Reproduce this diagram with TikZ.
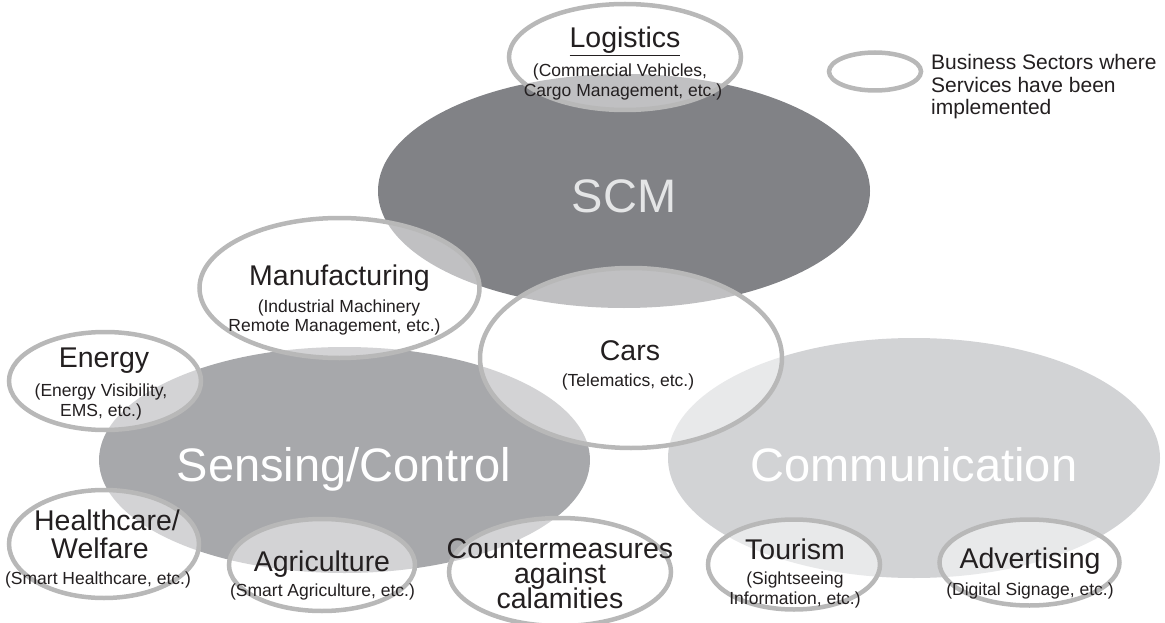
\documentclass[tikz,border=0pt]{standalone}
\usepackage{fontspec}
\setmainfont{Liberation Sans}
\usetikzlibrary{shapes.geometric}
\definecolor{scmgray}{RGB}{129,130,134}
\definecolor{sensegray}{RGB}{167,168,171}
\definecolor{commgray}{RGB}{210,211,213}
\definecolor{ringgray}{RGB}{184,184,184}
\definecolor{ink}{RGB}{35,31,32}
\definecolor{palelabel}{RGB}{228,229,230}

\begin{document}
\begin{tikzpicture}[x=1pt,y=-1pt,
  field/.style={ellipse,inner sep=0pt,outer sep=0pt,draw=none},
  sector/.style={ellipse,inner sep=0pt,outer sep=0pt,draw=ringgray,line width=4.5pt,
                 fill=white,fill opacity=0.5},
  fieldlabel/.style={anchor=base,inner sep=0pt,font=\fontsize{47}{50}\selectfont},
  head/.style={anchor=base,inner sep=0pt,text=ink,font=\fontsize{28.5}{30}\selectfont},
  sub/.style={anchor=base,inner sep=0pt,text=ink,font=\fontsize{17.5}{19}\selectfont},
  note/.style={anchor=base west,inner sep=0pt,text=ink,font=\fontsize{21}{22}\selectfont}]
\useasboundingbox (0,0) rectangle (1165,623);
\clip (0,0) rectangle (1165,623);

% the three service fields
\node[field,fill=scmgray,minimum width=492pt,minimum height=234pt]   (scm)  at (624,191)   {};
\node[field,fill=sensegray,minimum width=491pt,minimum height=226pt] (sens) at (344.5,460) {};
\node[field,fill=commgray,minimum width=492pt,minimum height=240pt]  (comm) at (914,458)   {};

% business sectors
\node[sector,minimum width=232pt,minimum height=106pt] (logi)  at (625,57)    {};
\node[sector,minimum width=92pt,minimum height=38pt]   (key)   at (875,71.5)  {};
\node[sector,minimum width=280pt,minimum height=140pt] (manu)  at (339.5,288) {};
\node[sector,minimum width=302pt,minimum height=180pt] (cars)  at (631,358)   {};
\node[sector,minimum width=192pt,minimum height=98pt]  (enrg)  at (105,381)   {};
\node[sector,minimum width=190pt,minimum height=108pt] (hlth)  at (104,544)   {};
\node[sector,minimum width=186pt,minimum height=92pt]  (agri)  at (322,565)   {};
\node[sector,minimum width=222pt,minimum height=108pt] (cntr)  at (560,572)   {};
\node[sector,minimum width=172pt,minimum height=90pt]  (tour)  at (794,564.5) {};
\node[sector,minimum width=180pt,minimum height=86pt]  (advt)  at (1029.5,562.5) {};

% field names
\node[fieldlabel,text=palelabel] (scm-t)  at (624,212)   {SCM};
\node[fieldlabel,text=white]     (sens-t) at (344,481)   {Sensing/Control};
\node[fieldlabel,text=white]     (comm-t) at (914,481)   {Communication};

% sector names
\node[head] (logi-t)  at (625,47.5) {\underline{Logistics}};
\node[sub]  (logi-s1) at (620,77)   {(Commercial Vehicles,};
\node[sub]  (logi-s2) at (623,97)   {Cargo Management, etc.)};

\node[note] (key-1) at (931,70)   {Business Sectors where};
\node[note] (key-2) at (931,92.5) {Services have been};
\node[note] (key-3) at (931,115)  {implemented};

\node[head] (manu-t)  at (339.5,285) {Manufacturing};
\node[sub]  (manu-s1) at (339,312)   {(Industrial Machinery};
\node[sub]  (manu-s2) at (334.5,331.5) {Remote Management, etc.)};

\node[head] (cars-t)  at (630,360) {Cars};
\node[sub]  (cars-s1) at (628,386) {(Telematics, etc.)};

\node[head] (enrg-t)  at (104,367) {Energy};
\node[sub]  (enrg-s1) at (101,396) {(Energy Visibility,};
\node[sub]  (enrg-s2) at (101,416) {EMS, etc.)};

\node[head] (hlth-t1) at (107,530) {Healthcare/};
\node[head] (hlth-t2) at (100,558) {Welfare};
\node[sub]  (hlth-s1) at (98,584)  {(Smart Healthcare, etc.)};

\node[head] (agri-t)  at (322,571)   {Agriculture};
\node[sub]  (agri-s1) at (322.5,596) {(Smart Agriculture, etc.)};

\node[head] (cntr-t1) at (560,558) {Countermeasures};
\node[head] (cntr-t2) at (560,583) {against};
\node[head] (cntr-t3) at (560,608) {calamities};

\node[head] (tour-t)  at (795,559) {Tourism};
\node[sub]  (tour-s1) at (795,584) {(Sightseeing};
\node[sub]  (tour-s2) at (795,604) {Information, etc.)};

\node[head] (advt-t)  at (1030,568) {Advertising};
\node[sub]  (advt-s1) at (1030,595) {(Digital Signage, etc.)};
\end{tikzpicture}
\end{document}
